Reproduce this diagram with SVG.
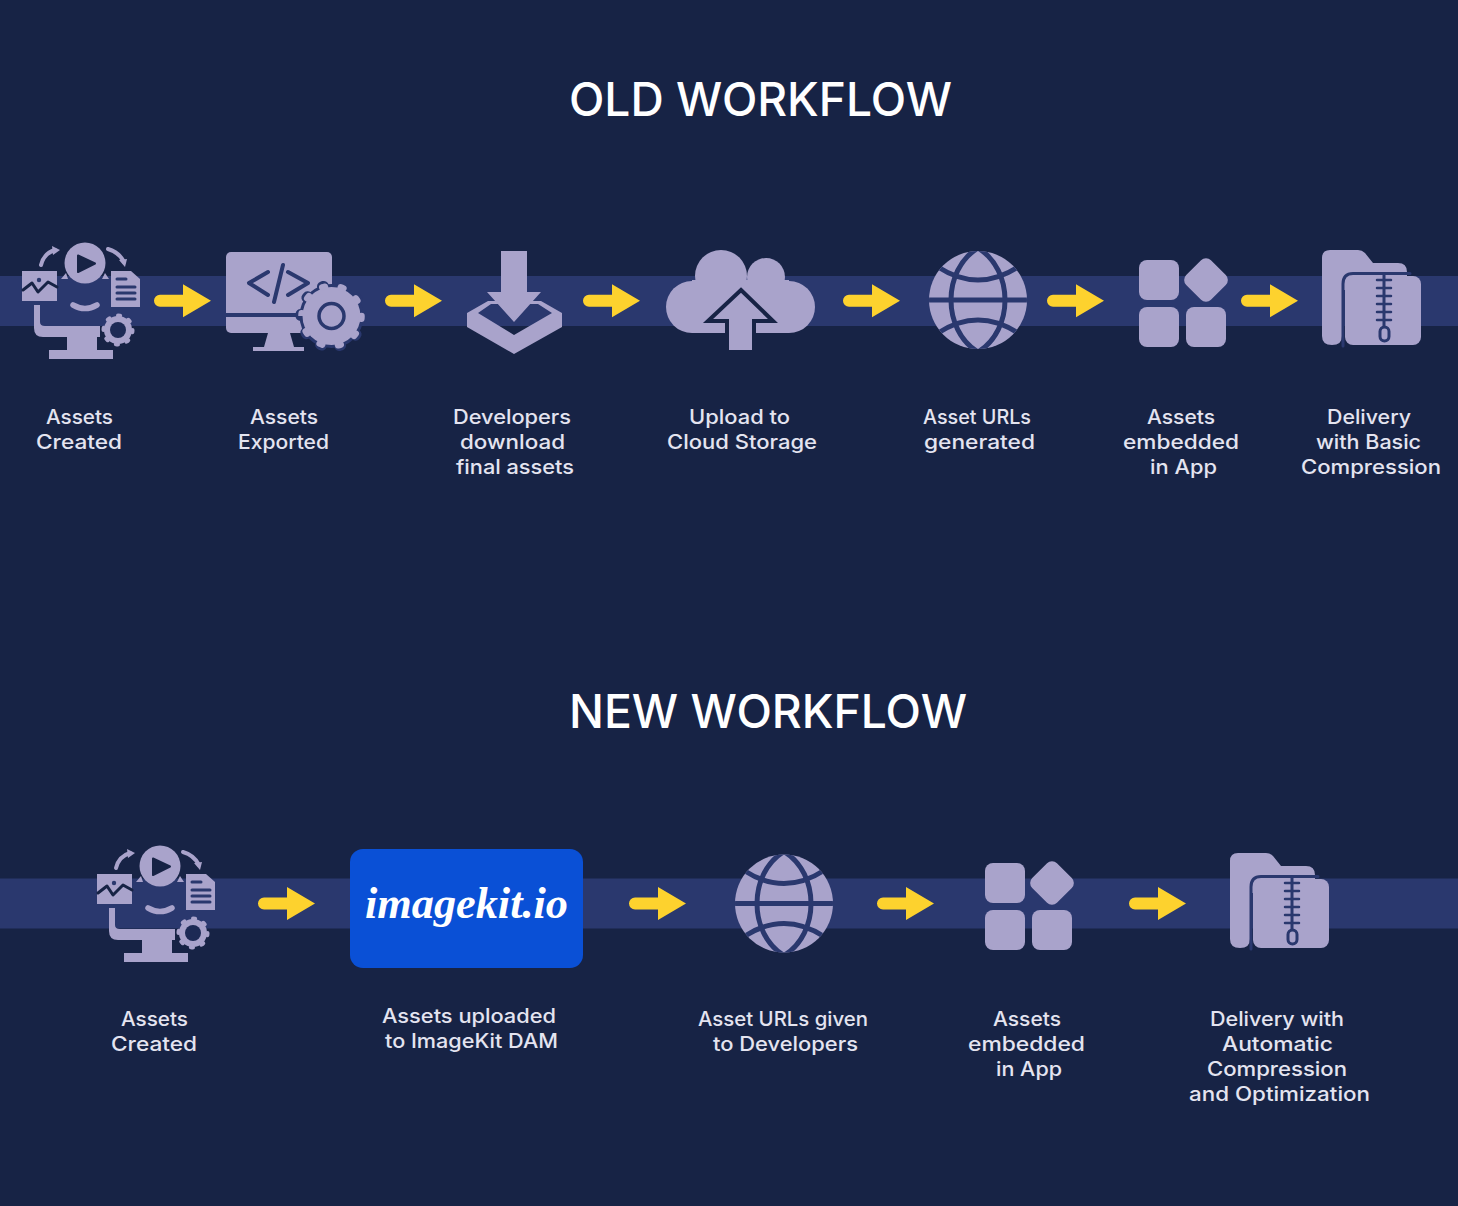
<svg xmlns="http://www.w3.org/2000/svg" width="1458" height="1206" viewBox="0 0 1458 1206">
<style>
.i{fill:#a9a3cb}
.s{fill:none;stroke:#a9a3cb;stroke-linecap:round;stroke-linejoin:round}
.d{fill:none;stroke:#2a386e;stroke-linecap:round;stroke-linejoin:round}
.h{font-family:"Inter","Noto Sans","Liberation Sans",sans-serif;font-size:46px;font-weight:500;fill:#fff}
.t{font-family:"Inter","Noto Sans","Liberation Sans",sans-serif;font-size:20px;font-weight:500;fill:#e4e4f0}
.a{fill:#fdd22e}
</style>
<defs>
<clipPath id="gc"><circle cx="978" cy="300" r="49"/></clipPath>
<path id="arrow" class="a" d="M6 -6H29V-16.500L57 0L29 16.500V6H6A6 6 0 0 1 6 -6Z"/>
<g id="ic-created">
<circle class="i" cx="85" cy="263" r="20.500"/>
<path d="M78 255.500L95 263.500L78 272Z" fill="#172345" stroke="#172345" stroke-width="2" stroke-linejoin="round"/>
<path class="s" stroke-width="4" d="M41 265C43 257 48 252 55 250"/>
<path class="i" d="M52 246L60 250L53 255Z"/>
<path class="s" stroke-width="4" d="M108 249C115 251 121 256 124 262"/>
<path class="i" d="M119 260L127 259L125 267Z"/>
<path class="i" d="M61 279L66 273L68 279Z M102 279L105 273L109 279Z"/>
<rect class="i" x="22" y="271" width="35" height="30"/>
<path class="d" style="stroke:#172345" stroke-width="3" d="M23 290L32 283L38 292L48 282L57 287"/>
<circle cx="39" cy="280" r="2.200" fill="#2a386e"/>
<path class="i" d="M111 271H131L140 279V307H111Z"/>
<path class="d" stroke-width="3" stroke-linecap="butt" d="M117 279H126M117 287H135M117 293H135M117 299H135"/>
<path class="s" stroke-width="5.500" d="M73 305Q85 312 97 305"/>
<path class="i" d="M34 305H40V322Q40 326 45 326H100V337H97V350H113V359H49V350H67V337H43Q34 337 34 328Z"/>
<circle class="i" cx="118" cy="330" r="14"/>
<circle cx="118" cy="330" r="14.500" fill="none" stroke="#a9a3cb" stroke-width="4" stroke-linecap="round" pathLength="80" stroke-dasharray="2 8"/>
<circle cx="118" cy="330" r="8" fill="#1d2a55"/>
</g>
<g id="ic-grid">
<rect class="i" x="1139" y="260" width="40" height="40" rx="8"/>
<rect class="i" x="1139" y="307" width="40" height="40" rx="8"/>
<rect class="i" x="1186" y="307" width="40" height="40" rx="8"/>
<rect class="i" x="1188.500" y="262.500" width="35" height="35" rx="7" transform="rotate(45 1206 280)"/>
</g>
<g id="ic-globe">
<circle class="i" cx="978" cy="300" r="49"/>
<g clip-path="url(#gc)">
<path class="d" stroke-width="5" d="M978 248C942 270 942 330 978 352C1014 330 1014 270 978 248Z"/>
<path class="d" stroke-width="5" d="M925 300H1031"/>
<path class="d" stroke-width="5" d="M938 267Q978 293 1018 267M938 333Q978 307 1018 333"/>
</g>
</g>
<g id="ic-folder">
<path class="i" d="M1330 250H1358Q1362 250 1365 253L1373 263H1398Q1407 263 1407 272V290H1342V336Q1342 345 1332 345Q1322 345 1322 336V258Q1322 250 1330 250Z"/>
<rect class="i" x="1345" y="276" width="76" height="69" rx="8"/>
<path class="d" stroke-width="3" stroke-linecap="butt" d="M1343 346V284Q1343 273.500 1353 273.500H1410"/>
<path class="d" stroke-width="3" stroke-linecap="butt" d="M1384 274V328"/>
<path class="d" stroke-width="2.500" d="M1377 280H1391M1377 288H1391M1377 296H1391M1377 304H1391M1377 312H1391M1377 320H1391"/>
<rect x="1380" y="327" width="9" height="14" rx="4.500" fill="#a9a3cb" stroke="#2a386e" stroke-width="3"/>
</g>
</defs>

<rect width="1458" height="1206" fill="#172345"/>
<g id="bands">
<rect y="276" width="1458" height="50" fill="#2a386e"/>
<rect y="878.500" width="1458" height="50" fill="#2a386e"/>
</g>

<text class="h" x="569" y="116" textLength="383" lengthAdjust="spacingAndGlyphs">OLD WORKFLOW</text>
<text class="h" x="569" y="728" textLength="398" lengthAdjust="spacingAndGlyphs">NEW WORKFLOW</text>

<g id="connectors">
<use href="#arrow" x="154" y="300.700"/>
<use href="#arrow" x="385" y="300.700"/>
<use href="#arrow" x="583" y="300.700"/>
<use href="#arrow" x="843" y="300.700"/>
<use href="#arrow" x="1047" y="300.700"/>
<use href="#arrow" x="1241" y="300.700"/>
<use href="#arrow" x="258" y="903.500"/>
<use href="#arrow" x="629" y="903.500"/>
<use href="#arrow" x="877" y="903.500"/>
<use href="#arrow" x="1129" y="903.500"/>
</g>

<g id="old-1">
<use href="#ic-created"/>
<text class="t" x="46" y="424" textLength="67" lengthAdjust="spacingAndGlyphs">Assets</text>
<text class="t" x="36" y="449" textLength="86" lengthAdjust="spacingAndGlyphs">Created</text>
</g>
<g id="old-2">
<rect class="i" x="226" y="252" width="106" height="81" rx="5"/>
<path d="M226 315H310" stroke="#2a386e" stroke-width="4"/>
<path class="d" stroke-width="4" d="M268 272L249 283L268 295M283 265L274 302M288 272L308 283L288 295"/>
<path class="i" d="M268 333H290L294 347H304V351H253V347H264Z"/>
<circle cx="331.500" cy="316" r="32" fill="#2a386e"/>
<circle cx="331.500" cy="316" r="31" fill="none" stroke="#2a386e" stroke-width="10" stroke-linecap="round" pathLength="100" stroke-dasharray="1 9"/>
<circle class="i" cx="331.500" cy="316" r="29"/>
<circle cx="331.500" cy="316" r="30" fill="none" stroke="#a9a3cb" stroke-width="6.500" stroke-linecap="round" pathLength="100" stroke-dasharray="1.500 8.500"/>
<circle cx="331.500" cy="316" r="12.500" fill="none" stroke="#2a386e" stroke-width="3.500"/>
<text class="t" x="250" y="424" textLength="68" lengthAdjust="spacingAndGlyphs">Assets</text>
<text class="t" x="238" y="449" textLength="91" lengthAdjust="spacingAndGlyphs">Exported</text>
</g>
<g id="old-3">
<path class="i" fill-rule="evenodd" d="M467 313L488 301H541L562 313V327L514 354L467 327Z M478 313L514 335L552 313L538 304H491Z"/>
<path class="i" d="M501 251H527V292H541L514 322L487 292H501Z"/>
<text class="t" x="453" y="424" textLength="118" lengthAdjust="spacingAndGlyphs">Developers</text>
<text class="t" x="460" y="449" textLength="105" lengthAdjust="spacingAndGlyphs">download</text>
<text class="t" x="456" y="474" textLength="118" lengthAdjust="spacingAndGlyphs">final assets</text>
</g>
<g id="old-4">
<circle class="i" cx="721" cy="276" r="26"/>
<circle class="i" cx="766" cy="277" r="19"/>
<circle class="i" cx="692" cy="307" r="26"/>
<circle class="i" cx="789" cy="307" r="26"/>
<rect class="i" x="692" y="280" width="97" height="53"/>
<path class="i" stroke="#172345" stroke-width="4" d="M741 290L773 321H754V352H727V321H708Z"/>
<text class="t" x="689" y="424" textLength="101" lengthAdjust="spacingAndGlyphs">Upload to</text>
<text class="t" x="667" y="449" textLength="150" lengthAdjust="spacingAndGlyphs">Cloud Storage</text>
</g>
<g id="old-5">
<use href="#ic-globe"/>
<text class="t" x="923" y="424" textLength="108" lengthAdjust="spacingAndGlyphs">Asset URLs</text>
<text class="t" x="924" y="449" textLength="111" lengthAdjust="spacingAndGlyphs">generated</text>
</g>
<g id="old-6">
<use href="#ic-grid"/>
<text class="t" x="1147" y="424" textLength="68" lengthAdjust="spacingAndGlyphs">Assets</text>
<text class="t" x="1123" y="449" textLength="116" lengthAdjust="spacingAndGlyphs">embedded</text>
<text class="t" x="1150" y="474" textLength="67" lengthAdjust="spacingAndGlyphs">in App</text>
</g>
<g id="old-7">
<use href="#ic-folder"/>
<text class="t" x="1327" y="424" textLength="84" lengthAdjust="spacingAndGlyphs">Delivery</text>
<text class="t" x="1316" y="449" textLength="105" lengthAdjust="spacingAndGlyphs">with Basic</text>
<text class="t" x="1301" y="474" textLength="140" lengthAdjust="spacingAndGlyphs">Compression</text>
</g>

<g id="new-1">
<use href="#ic-created" transform="translate(75 603)"/>
<text class="t" x="121" y="1026" textLength="67" lengthAdjust="spacingAndGlyphs">Assets</text>
<text class="t" x="111" y="1051" textLength="86" lengthAdjust="spacingAndGlyphs">Created</text>
</g>
<g id="new-2">
<rect x="350" y="849" width="233" height="119" rx="13" fill="#0a50d6"/>
<text x="365" y="918" textLength="203" lengthAdjust="spacingAndGlyphs" font-family="'Liberation Serif',serif" font-style="italic" font-weight="700" font-size="44" fill="#fff">imagekit.io</text>
<text class="t" x="382" y="1023" textLength="174" lengthAdjust="spacingAndGlyphs">Assets uploaded</text>
<text class="t" x="385" y="1048" textLength="173" lengthAdjust="spacingAndGlyphs">to ImageKit DAM</text>
</g>
<g id="new-3">
<use href="#ic-globe" transform="translate(-194 603.500)"/>
<text class="t" x="698" y="1026" textLength="170" lengthAdjust="spacingAndGlyphs">Asset URLs given</text>
<text class="t" x="713" y="1051" textLength="145" lengthAdjust="spacingAndGlyphs">to Developers</text>
</g>
<g id="new-4">
<use href="#ic-grid" transform="translate(-154 603)"/>
<text class="t" x="993" y="1026" textLength="68" lengthAdjust="spacingAndGlyphs">Assets</text>
<text class="t" x="968" y="1051" textLength="117" lengthAdjust="spacingAndGlyphs">embedded</text>
<text class="t" x="996" y="1076" textLength="66" lengthAdjust="spacingAndGlyphs">in App</text>
</g>
<g id="new-5">
<use href="#ic-folder" transform="translate(-92 603)"/>
<text class="t" x="1210" y="1026" textLength="134" lengthAdjust="spacingAndGlyphs">Delivery with</text>
<text class="t" x="1222" y="1051" textLength="111" lengthAdjust="spacingAndGlyphs">Automatic</text>
<text class="t" x="1207" y="1076" textLength="140" lengthAdjust="spacingAndGlyphs">Compression</text>
<text class="t" x="1189" y="1101" textLength="181" lengthAdjust="spacingAndGlyphs">and Optimization</text>
</g>
</svg>
